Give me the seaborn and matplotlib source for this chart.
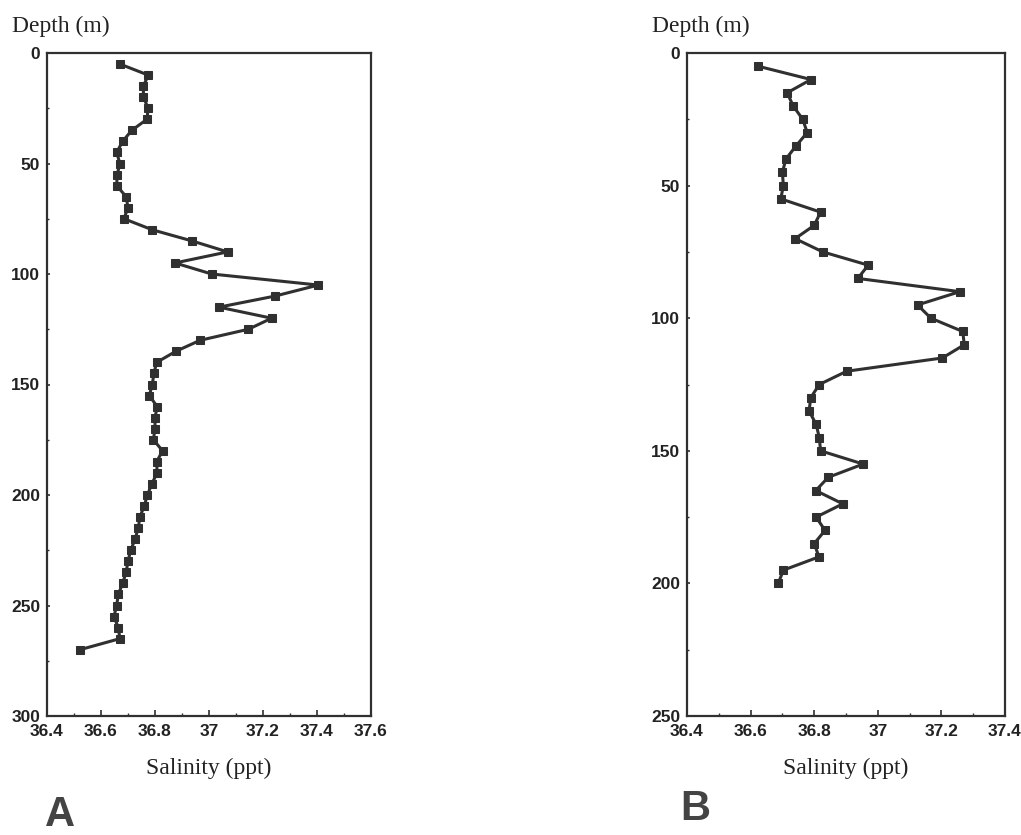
import numpy as np
import pandas as pd
import matplotlib
matplotlib.use("Agg")
import matplotlib.pyplot as plt
from matplotlib.ticker import MultipleLocator
import seaborn as sns

# ---- data ----
depth_a = list(range(5, 275, 5))
salinity_a = [36.67, 36.775, 36.757, 36.757, 36.775, 36.77, 36.714, 36.68, 36.658, 36.67,
              36.66, 36.658, 36.693, 36.70, 36.685, 36.79, 36.936, 37.069, 36.874, 37.01,
              37.405, 37.244, 37.037, 37.232, 37.146, 36.967, 36.877, 36.806, 36.796, 36.79,
              36.779, 36.808, 36.80, 36.80, 36.794, 36.828, 36.806, 36.808, 36.788, 36.772,
              36.76, 36.744, 36.738, 36.726, 36.71, 36.70, 36.693, 36.68, 36.664, 36.658,
              36.648, 36.664, 36.67, 36.522]

depth_b = list(range(5, 205, 5))
salinity_b = [36.624, 36.79, 36.715, 36.734, 36.764, 36.778, 36.743, 36.711, 36.70, 36.703,
              36.695, 36.82, 36.80, 36.74, 36.827, 36.97, 36.937, 37.258, 37.125, 37.167,
              37.267, 37.272, 37.203, 36.902, 36.816, 36.789, 36.784, 36.806, 36.816, 36.82,
              36.954, 36.844, 36.805, 36.89, 36.806, 36.834, 36.80, 36.815, 36.703, 36.687]

xticks_a = [36.4, 36.6, 36.8, 37.0, 37.2, 37.4, 37.6]
xticklabels_a = ["36.4", "36.6", "36.8", "37", "37.2", "37.4", "37.6"]
yticks_a = [0, 50, 100, 150, 200, 250, 300]

xticks_b = [36.4, 36.6, 36.8, 37.0, 37.2, 37.4]
xticklabels_b = ["36.4", "36.6", "36.8", "37", "37.2", "37.4"]
yticks_b = [0, 50, 100, 150, 200, 250]

panel_letters = ["A", "B"]

# ---- style ----
sns.set_style("white")
plt.rcParams["font.family"] = ["Liberation Sans", "DejaVu Sans"]

ink = "#303030"
W, H = 1021, 835
fig = plt.figure(figsize=(W / 100, H / 100), dpi=100)


def axrect(l, t, r, b):
    return [l / W, 1 - b / H, (r - l) / W, (b - t) / H]


ax_a = fig.add_axes(axrect(47, 53, 371, 716))
ax_b = fig.add_axes(axrect(687, 53, 1005, 716))

df_a = pd.DataFrame({"Salinity": salinity_a, "Depth": depth_a})
df_b = pd.DataFrame({"Salinity": salinity_b, "Depth": depth_b})

panels = [
    (ax_a, df_a, (36.4, 37.6), (300, 0), xticks_a, xticklabels_a, yticks_a),
    (ax_b, df_b, (36.4, 37.4), (250, 0), xticks_b, xticklabels_b, yticks_b),
]

for ax, df, xl, yl, xt, xtl, yt in panels:
    sns.lineplot(data=df, x="Salinity", y="Depth", sort=False, estimator=None,
                 color=ink, linewidth=2.2, marker="s", markersize=6,
                 markeredgecolor=ink, markerfacecolor=ink, ax=ax)
    ax.set_xlim(*xl)
    ax.set_ylim(*yl)
    ax.set_xticks(xt)
    ax.set_xticklabels(xtl)
    ax.set_yticks(yt)
    ax.xaxis.set_minor_locator(MultipleLocator(0.1))
    ax.yaxis.set_minor_locator(MultipleLocator(25))
    ax.tick_params(axis="x", which="major", direction="in", length=4, width=1.2,
                   color=ink, pad=6, labelsize=12.5, labelcolor="#222222", bottom=True)
    ax.tick_params(axis="x", which="minor", direction="in", length=2, width=1.0,
                   color=ink, bottom=True)
    ax.tick_params(axis="y", which="major", direction="in", length=2.5, width=1.2,
                   color=ink, pad=5, labelsize=12.5, labelcolor="#222222", left=True)
    ax.tick_params(axis="y", which="minor", direction="in", length=1.5, width=1.0,
                   color=ink, left=True)
    for lab in ax.get_xticklabels() + ax.get_yticklabels():
        lab.set_fontweight("bold")
    for sp in ax.spines.values():
        sp.set_visible(True)
        sp.set_color(ink)
        sp.set_linewidth(1.6)
    ax.set_xlabel("Salinity (ppt)", family=["Liberation Serif", "DejaVu Serif"],
                  fontsize=17, color="#222222", labelpad=13)
    ax.set_ylabel("")
    ax.grid(False)

# "Depth (m)" titles above the y axes
fig.text(12 / W, 1 - 32 / H, "Depth (m)", family=["Liberation Serif", "DejaVu Serif"],
         fontsize=17, color="#222222", ha="left", va="baseline")
fig.text(652 / W, 1 - 32 / H, "Depth (m)", family=["Liberation Serif", "DejaVu Serif"],
         fontsize=17, color="#222222", ha="left", va="baseline")

# Panel letters
fig.text(60 / W, 1 - 815 / H, panel_letters[0], fontsize=30, fontweight="bold",
         color="#444444", ha="center", va="center")
fig.text(695 / W, 1 - 809 / H, panel_letters[1], fontsize=30, fontweight="bold",
         color="#444444", ha="center", va="center")

fig.savefig("out.png", dpi=100, facecolor="white")
